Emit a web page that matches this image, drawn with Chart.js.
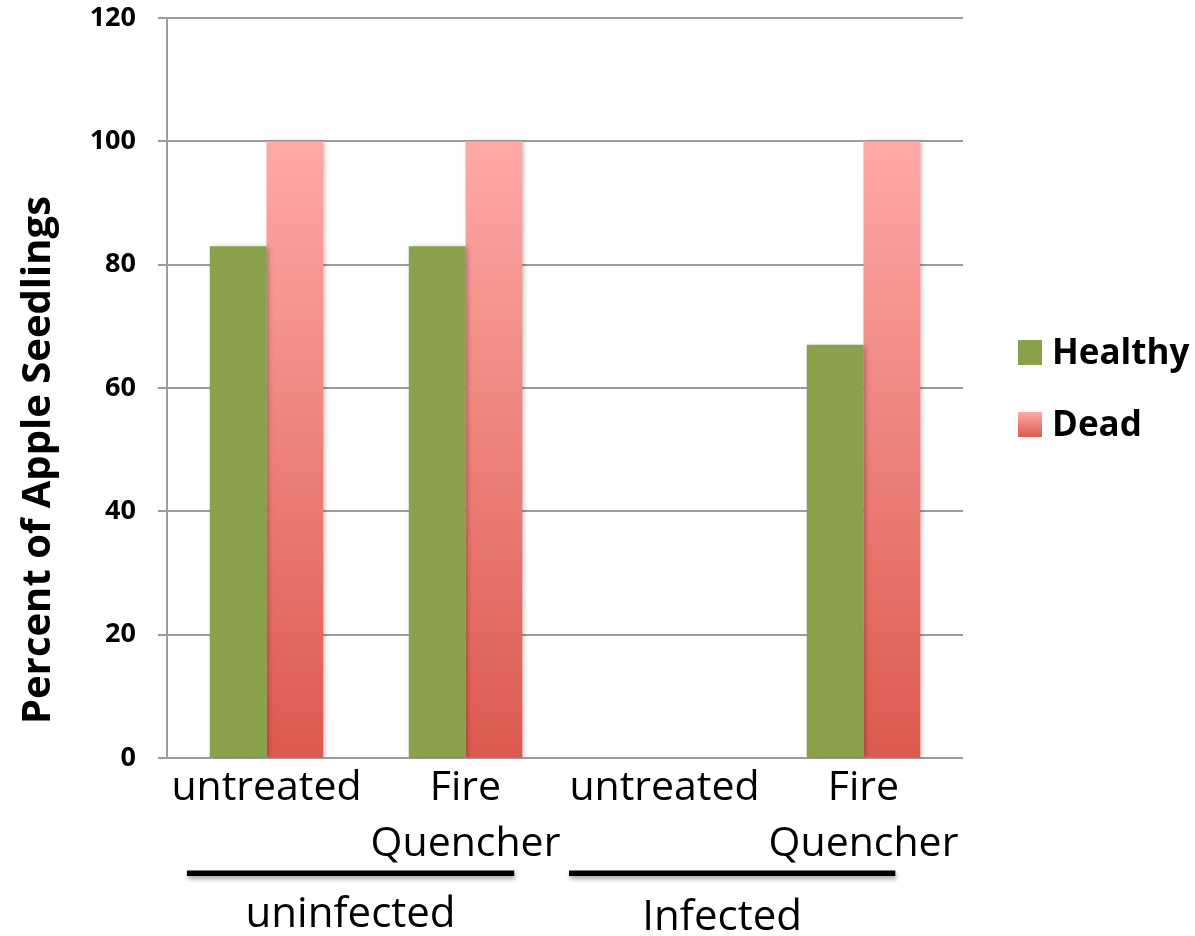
<!DOCTYPE html>
<html>
<head>
<meta charset="utf-8">
<script src="https://cdn.jsdelivr.net/npm/chart.js@4/dist/chart.umd.min.js"></script>
<style>
  html, body { margin: 0; padding: 0; background: #ffffff; }
  #wrap { width: 1195px; height: 936px; position: relative; }
</style>
</head>
<body>
<div id="wrap"><canvas id="c" width="1195" height="936"></canvas></div>
<script>
// ---- data ----
const categories = ['untreated', ['Fire', 'Quencher'], 'untreated', ['Fire', 'Quencher']];
const healthyValues = [83, 83, 0, 67];
const deadValues = [100, 100, 0, 100];
const seriesNames = ['Healthy', 'Dead'];
const groupLabels = ['uninfected', 'Infected'];
const groupMembers = [[0, 1], [2, 3]];
const yTicks = [0, 20, 40, 60, 80, 100, 120];
const yTitle = 'Percent of Apple Seedlings';

const FONT = "'Open Sans', 'DejaVu Sans', sans-serif";
const GREEN = '#8aa14b';
const PINK_TOP = '#ffa9a7';
const PINK_BOTTOM = '#dc5a4f';
const GRID = '#9c9c9c';

function deadGradient(ctx, top, bottom) {
  const g = ctx.createLinearGradient(0, bottom, 0, top);
  g.addColorStop(0, PINK_BOTTOM);
  g.addColorStop(1, PINK_TOP);
  return g;
}

const barShadow = {
  id: 'barShadow',
  beforeDatasetsDraw(chart) {
    const c = chart.ctx;
    c.save();
    c.shadowColor = 'rgba(0,0,0,0.28)';
    c.shadowBlur = 5;
    c.shadowOffsetX = 2;
    c.shadowOffsetY = 1;
  },
  afterDatasetsDraw(chart) { chart.ctx.restore(); }
};

const extras = {
  id: 'extras',
  afterDraw(chart) {
    const c = chart.ctx;
    const xs = chart.scales.x;
    const w = xs.getPixelForValue(1) - xs.getPixelForValue(0);
    // group lines + labels
    const offs = [[-0.40, 0.245], [-0.48, 0.16]];
    groupMembers.forEach((m, i) => {
      const x0 = xs.getPixelForValue(m[0]) + offs[i][0] * w;
      const x1 = xs.getPixelForValue(m[m.length - 1]) + offs[i][1] * w;
      c.save();
      c.shadowColor = 'rgba(0,0,0,0.35)';
      c.shadowBlur = 4;
      c.shadowOffsetX = 1;
      c.shadowOffsetY = 3;
      c.fillStyle = '#000';
      c.fillRect(x0, 870.5, x1 - x0, 5.5);
      c.restore();
      c.save();
      c.fillStyle = '#000';
      c.font = "42px " + FONT;
      c.textAlign = 'center';
      c.textBaseline = 'alphabetic';
      const cx = i === 0 ? (x0 + x1) / 2 : (x0 + x1) / 2 - 10;
      c.fillText(groupLabels[i], cx, 927 + (i === 1 ? 3 : 0));
      c.restore();
    });
    // y title
    c.save();
    c.translate(50, 460);
    c.rotate(-Math.PI / 2);
    c.fillStyle = '#000';
    c.font = "bold 40px " + FONT;
    c.textAlign = 'center';
    c.textBaseline = 'alphabetic';
    c.fillText(yTitle, 0, 0);
    c.restore();
    // legend
    const ds = chart.data.datasets;
    const rows = [340, 412];
    ds.forEach((d, i) => {
      const y = rows[i];
      c.save();
      if (i === 1) {
        c.fillStyle = deadGradient(c, y, y + 25);
      } else {
        c.fillStyle = GREEN;
      }
      c.fillRect(1018, y, 24, 25);
      c.fillStyle = '#000';
      c.font = "bold 35px " + FONT;
      c.textAlign = 'left';
      c.textBaseline = 'middle';
      c.fillText(d.label, 1052, y + 14);
      c.restore();
    });
  }
};

new Chart(document.getElementById('c'), {
  type: 'bar',
  data: {
    labels: categories,
    datasets: [
      { label: seriesNames[0], data: healthyValues, backgroundColor: GREEN, borderWidth: 0 },
      {
        label: seriesNames[1], data: deadValues, borderWidth: 0,
        backgroundColor(ctx) {
          const ch = ctx.chart;
          if (!ch.chartArea) return PINK_BOTTOM;
          const y = ch.scales.y;
          return deadGradient(ch.ctx, y.getPixelForValue(100), y.getPixelForValue(0));
        }
      }
    ]
  },
  options: {
    responsive: false,
    animation: false,
    events: [],
    layout: { padding: { top: 18, right: 232, bottom: 0, left: 0 } },
    datasets: { bar: { categoryPercentage: 0.57, barPercentage: 1.0 } },
    plugins: { legend: { display: false }, tooltip: { enabled: false }, title: { display: false } },
    scales: {
      x: {
        grid: { display: false, drawTicks: false },
        border: { display: false },
        ticks: {
          color: '#000',
          padding: 2,
          maxRotation: 0, minRotation: 0, autoSkip: false,
          font: { family: FONT, size: 41, lineHeight: 1.37 }
        },
        afterFit(s) { s.height = 178; s.paddingLeft = 0; s.paddingRight = 0; }
      },
      y: {
        min: 0, max: 120,
        afterBuildTicks(s) { s.ticks = yTicks.map(v => ({ value: v })); },
        grid: { color: GRID, lineWidth: 2, tickLength: 9, tickColor: GRID },
        border: { display: true, color: GRID, width: 2 },
        ticks: {
          color: '#000',
          padding: 22,
          font: { family: FONT, size: 27, weight: 'bold' }
        },
        afterFit(s) { s.width = 167; s.paddingTop = 0; s.paddingBottom = 0; }
      }
    }
  },
  plugins: [barShadow, extras]
});
</script>
</body>
</html>
